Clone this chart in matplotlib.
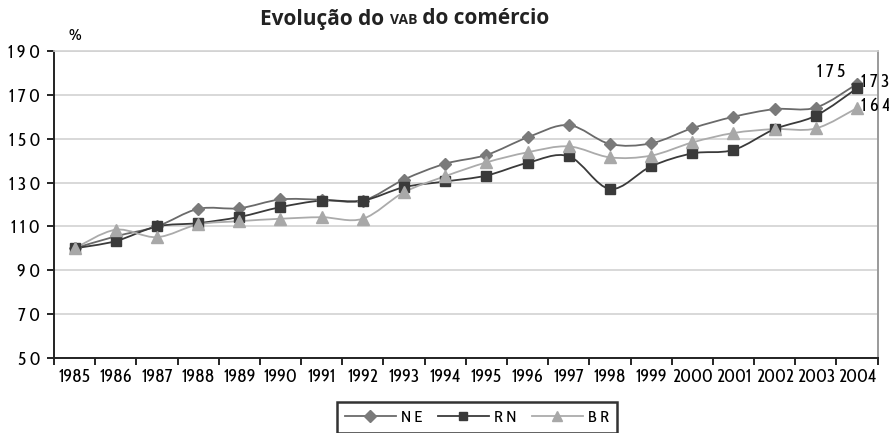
"""Evolução do VAB do comércio — NE, RN, BR (1985 = 100)."""
import numpy as np
import matplotlib
matplotlib.use("Agg")
import matplotlib.pyplot as plt
from matplotlib.path import Path
from matplotlib.patches import PathPatch
from matplotlib.lines import Line2D
from matplotlib.offsetbox import TextArea, HPacker, AnchoredOffsetbox

plt.rcParams["font.family"] = ["Cabin Condensed", "DejaVu Sans"]

years = [str(y) for y in range(1985, 2005)]
ne = [100, 105.5, 110, 118, 118.3, 122.3, 122.2, 121.8, 131.4, 138.6,
      142.6, 150.6, 156.2, 147.6, 147.9, 154.8, 160, 163.5, 164.2, 175]
rn = [100, 103.3, 110, 111.5, 114.3, 118.8, 121.8, 121.8, 127.9, 130.5,
      133.2, 139, 142, 127.1, 137.4, 143.3, 144.9, 154.4, 160.5, 173]
br = [100, 108.5, 105.1, 110.9, 112.4, 113.5, 114.2, 113.5, 125.6, 132.9,
      139.2, 143.8, 146.5, 141.5, 142.3, 148.3, 152.6, 154.4, 154.7, 164]
end_labels = ["1 7 5", "1 7 3", "1 6 4"]
yticks = [50, 70, 90, 110, 130, 150, 170, 190]


def smooth_path(xs, ys):
    # Excel-like smoothed line: Catmull-Rom segments as cubic Beziers
    pts = np.column_stack([xs, ys]).astype(float)
    n = len(pts)
    verts = [pts[0]]
    codes = [Path.MOVETO]
    for i in range(n - 1):
        p0 = pts[max(i - 1, 0)]
        p1 = pts[i]
        p2 = pts[i + 1]
        p3 = pts[min(i + 2, n - 1)]
        c1 = p1 + (p2 - p0) / 6.0
        c2 = p2 - (p3 - p1) / 6.0
        verts += [c1, c2, p2]
        codes += [Path.CURVE4] * 3
    return Path(verts, codes)


fig = plt.figure(figsize=(8.89, 4.33), dpi=100)
ax = fig.add_axes([0.0607, 0.1732, 0.9265, 0.709])

x = np.arange(len(years))
series = [
    ("N E", ne, "D", "#7a7a7a", "#6a6a6a", 6.5),
    ("R N", rn, "s", "#3a3a3a", "#3a3a3a", 6.5),
    ("B R", br, "^", "#a8a8a8", "#ababab", 8),
]
handles = []
for name, vals, mk, mcol, lcol, ms in series:
    ax.add_patch(PathPatch(smooth_path(x, vals), fill=False, edgecolor=lcol,
                           lw=1.3, zorder=3))
    ax.plot(x, vals, ls="none", marker=mk, ms=ms, color=mcol, zorder=4)
    handles.append(Line2D([], [], color=lcol, lw=1.3, marker=mk, ms=ms - 0.5,
                          markerfacecolor=mcol, markeredgecolor=mcol, label=name))

# end-of-series labels
lab_kw = dict(fontsize=13, va="center", clip_on=False)
ax.text(x[-1] - 0.28, ne[-1] + 5.5, end_labels[0], ha="right", **lab_kw)
ax.text(x[-1] + 0.1, rn[-1] + 3, end_labels[1], ha="left", **lab_kw)
ax.text(x[-1] + 0.1, br[-1] + 1, end_labels[2], ha="left", **lab_kw)

ax.set_xlim(-0.5, len(years) - 0.5)
ax.set_ylim(50, 190)
ax.set_yticks(yticks)
ax.set_yticklabels([" ".join(str(v)) for v in yticks], fontsize=13)
ax.set_xticks(x)
ax.set_xticklabels(years, fontsize=13)
ax.set_xticks(np.arange(-0.5, len(years)), minor=True)
ax.tick_params(axis="x", which="major", length=0, pad=7)
ax.tick_params(axis="x", which="minor", length=5, width=1.2, direction="out")
ax.tick_params(axis="y", length=5, width=1.2, direction="out", pad=5)
ax.yaxis.grid(True, color="#d2d2d2", lw=1.2)
ax.set_axisbelow(True)
for s in ["left", "bottom"]:
    ax.spines[s].set_color("#222222")
    ax.spines[s].set_linewidth(1.4)
ax.spines["top"].set_color("#d2d2d2")
ax.spines["top"].set_linewidth(1.2)
ax.spines["right"].set_color("#9a9a9a")
ax.spines["right"].set_linewidth(1.4)

fig.text(75 / 889, 1 - 36 / 433, "%", fontsize=12, ha="center", va="center")

# title with small-caps "VAB"
tkw = dict(fontsize=15, fontweight="bold", color="#222222",
           family=["Open Sans", "DejaVu Sans"])
parts = [TextArea("Evolução do ", textprops=tkw),
         TextArea("VAB", textprops=dict(tkw, fontsize=10)),
         TextArea(" do comércio", textprops=tkw)]
box = HPacker(children=parts, align="baseline", pad=0, sep=0)
ab = AnchoredOffsetbox(loc="center", child=box, frameon=False,
                       bbox_to_anchor=(405 / 889, 1 - 19 / 433),
                       bbox_transform=fig.transFigure, borderpad=0)
fig.add_artist(ab)

leg = fig.legend(handles=handles, loc="upper center", ncol=3,
                 bbox_to_anchor=(477 / 889, 1 - 402 / 433), fontsize=12,
                 frameon=True, fancybox=False, handlelength=3.1,
                 columnspacing=0.9, borderpad=0.45, handletextpad=0.3,
                 borderaxespad=0)
leg.get_frame().set_edgecolor("black")
leg.get_frame().set_linewidth(1.8)

fig.savefig("out.png", dpi=100)
